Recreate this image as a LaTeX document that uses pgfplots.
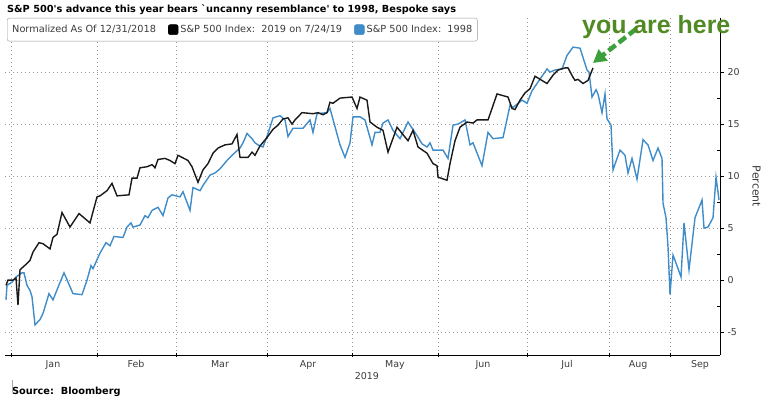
\documentclass[border=0pt]{standalone}
\usepackage{fontspec}
\setmainfont{DejaVu Sans}
\newfontfamily\arialfont{Liberation Sans}
\usepackage{pgfplots}
\pgfplotsset{compat=1.18}
\usetikzlibrary{arrows.meta}
\definecolor{bbblue}{RGB}{64,140,200}
\definecolor{gridgray}{RGB}{150,150,150}
\definecolor{hereGreen}{RGB}{80,138,36}
\definecolor{arrowGreen}{RGB}{60,160,60}
\definecolor{textgray}{RGB}{60,60,60}
\begin{document}
\begin{tikzpicture}[x=1bp,y=1bp]
\useasboundingbox (0,0) rectangle (768,399);
\begin{axis}[
  at={(5bp,44bp)}, anchor=south west,
  scale only axis, width=715bp, height=337bp,
  xmin=5, xmax=720, ymin=-7.2, ymax=25.2,
  axis x line*=bottom, axis y line*=right,
  axis line style={black, line width=0.8bp},
  xtick={11.7,97,176,267,352,438,527,609,670},
  xticklabels={},
  x tick style={black, line width=0.8bp},
  xtick align=center,
  extra x ticks={53,136,220,308,395,483,567,638,700},
  extra x tick labels={Jan,Feb,Mar,Apr,May,Jun,Jul,Aug,Sep},
  extra x tick style={grid=none, tick style={draw=none}},
  ytick={-5,0,5,10,15,20},
  yticklabels={-5,0,5,10,15,20},
  minor y tick num=1,
  ytick align=outside,
  major tick length=4bp,
  minor tick length=3bp,
  y tick style={black, line width=0.8bp},
  minor y tick style={xshift=-3bp},
  xmajorgrids, ymajorgrids,
  major grid style={gridgray, dash pattern=on 1bp off 3bp, line width=0.8bp},
  tick label style={font=\fontsize{9.5}{11}\selectfont, text=textgray},
  xlabel={2019},
  xlabel style={at={(axis description cs:0.506,0)}, anchor=center, yshift=-21bp, font=\fontsize{9.5}{11}\selectfont, text=textgray},
  ylabel={Percent},
  ylabel style={rotate=180, yshift=6bp, font=\fontsize{11}{13}\selectfont, text=textgray},
  legend columns=3,
  legend cell align=left,
  legend style={at={(axis description cs:0.0028,1)}, anchor=north west,
    draw=gray!80, rounded corners=2bp, font=\fontsize{9.8}{11}\selectfont,
    text=textgray, inner xsep=3bp, inner ysep=5bp,
    /tikz/every even column/.append style={column sep=10bp}},
]
\addlegendimage{empty legend}
\addlegendentry{Normalized As Of 12/31/2018}
\addlegendimage{legend image code/.code={\fill[black] (0bp,-5bp) rectangle (10bp,5bp);}}
\addlegendentry{S\&P 500 Index:\ \ 2019 on 7/24/19}
\addlegendimage{legend image code/.code={\fill[bbblue] (0bp,-5bp) rectangle (10bp,5bp);}}
\addlegendentry{S\&P 500 Index:\ \ 1998}

\addplot[color=bbblue, line width=1.4bp, forget plot] coordinates {
(6,-1.9)(7,-0.5)(12,-0.2)(16,0.3)(22,0.7)(24,0.7)(27,-0.5)(30,-1.0)(32,-1.6)(35,-4.3)(40,-3.8)(43,-3.2)(49,-1.3)(53,-1.9)(58,-0.7)(64,0.7)(73,-1.3)(82,-1.4)(87,0)(91,1.4)(93,1.1)(100,2.6)(106,3.6)(110,3.3)(114,4.2)(123,4.1)(127,5.1)(131,5.5)(133,5.1)(140,5.3)(145,6.2)(148,6.0)(152,6.7)(158,7.0)(163,6.2)(168,7.9)(172,8.2)(180,8.0)(183,8.5)(190,6.7)(193,8.9)(200,8.6)(203,9.1)(210,10.1)(215,10.3)(220,10.7)(227,11.5)(232,12.0)(240,12.7)(243,13.2)(247,14.1)(252,13.6)(255,13.2)(258,13.0)(263,12.8)(268,14.1)(273,15.6)(280,15.8)(285,15.4)(288,13.8)(293,14.6)(303,14.6)(310,15.4)(313,14.2)(317,16.0)(327,16.1)(330,16.5)(340,13.0)(345,11.8)(350,13.2)(353,15.7)(360,15.7)(365,15.4)(372,13.0)(375,14.2)(380,14.2)(383,15.1)(388,15.4)(393,14.4)(400,13.6)(408,15.2)(417,13.9)(422,13.1)(427,12.8)(430,13.2)(433,12.5)(443,12.5)(448,11.7)(453,14.9)(458,15.0)(465,15.4)(470,13.0)(473,13.2)(482,11.0)(488,14.2)(493,13.6)(503,13.7)(510,16.8)(513,16.6)(522,17.3)(527,17.0)(532,18.2)(537,18.9)(547,20.3)(550,20.0)(555,20.2)(562,20.3)(567,21.6)(573,22.4)(580,22.3)(583,21.4)(587,20.2)(589,20.0)(592,17.6)(596,18.3)(598,17.9)(602,16.1)(605,17.9)(607,15.5)(611,14.9)(613,10.6)(620,12.5)(625,12.0)(628,10.3)(632,11.7)(637,9.7)(643,13.5)(648,13.0)(653,11.5)(658,12.7)(662,11.7)(663,7.4)(666,6.0)(668,3.2)(670,-1.4)(673,2.4)(675,1.9)(681,0.3)(684,5.5)(689,1.0)(695,6.0)(702,7.7)(704,5.0)(708,5.1)(713,6.0)(716,9.9)(719,7.7)
};
\addplot[color=black!90, line width=1.4bp, forget plot] coordinates {
(6,-0.5)(8,0)(13,0)(16,0.2)(18,-2.4)(20,1.0)(27,1.6)(30,1.9)(33,2.7)(39,3.6)(43,3.5)(50,3.0)(53,4.1)(57,4.4)(62,6.5)(70,5.1)(79,6.4)(90,5.5)(97,8.0)(100,8.1)(107,8.6)(112,9.3)(117,8.1)(129,8.2)(132,9.8)(137,9.8)(140,10.8)(147,10.9)(152,11.1)(155,10.8)(158,11.6)(165,11.7)(170,11.5)(175,11.2)(178,12.0)(188,11.5)(192,10.9)(198,9.4)(203,10.6)(208,11.2)(213,12.2)(218,12.7)(225,13.0)(232,13.1)(237,14.0)(240,11.8)(248,11.8)(252,12.3)(255,12.0)(260,12.9)(267,13.7)(273,14.5)(278,14.9)(283,15.5)(288,15.6)(292,15.0)(295,15.4)(302,16.1)(313,16.0)(318,16.1)(323,15.9)(327,16.1)(330,17.1)(333,17.0)(340,17.5)(352,17.6)(357,16.5)(360,17.6)(367,17.3)(370,15.2)(377,14.7)(383,14.4)(388,12.3)(397,14.7)(408,13.4)(413,14.4)(418,12.8)(427,12.2)(433,11.2)(437,11.0)(438,9.9)(447,9.6)(450,11.2)(455,13.4)(460,14.7)(467,15.2)(473,15.1)(477,15.4)(488,15.4)(492,16.5)(497,17.9)(508,17.6)(512,16.5)(515,16.4)(520,17.3)(525,18.0)(530,18.4)(535,19.6)(547,18.9)(553,19.7)(558,20.2)(565,20.4)(568,20.4)(573,19.5)(575,19.2)(578,19.3)(583,18.9)(588,19.2)(593,20.4)
};
\end{axis}
\node[anchor=base west, inner sep=0, font=\bfseries\fontsize{9.8}{11}\selectfont] at (7,387) {S\&P 500\textquotesingle s advance this year bears \textasciigrave uncanny resemblance\textquotesingle\ to 1998, Bespoke says};
\node[anchor=base west, inner sep=0, font=\bfseries\fontsize{9.8}{11}\selectfont] at (12,5) {Source:\ \ Bloomberg};
\draw[gray!70, line width=0.8bp] (12,19) -- (12,7);
\draw[arrowGreen, line width=4.5bp, dash pattern=on 9bp off 4bp, -{Triangle[length=13bp,width=14bp]}] (636,370) -- (593,336);
\node[anchor=base west, inner sep=0, font=\arialfont\bfseries\fontsize{25}{30}\selectfont, text=hereGreen] at (582,366) {you are here};
\end{tikzpicture}
\end{document}
